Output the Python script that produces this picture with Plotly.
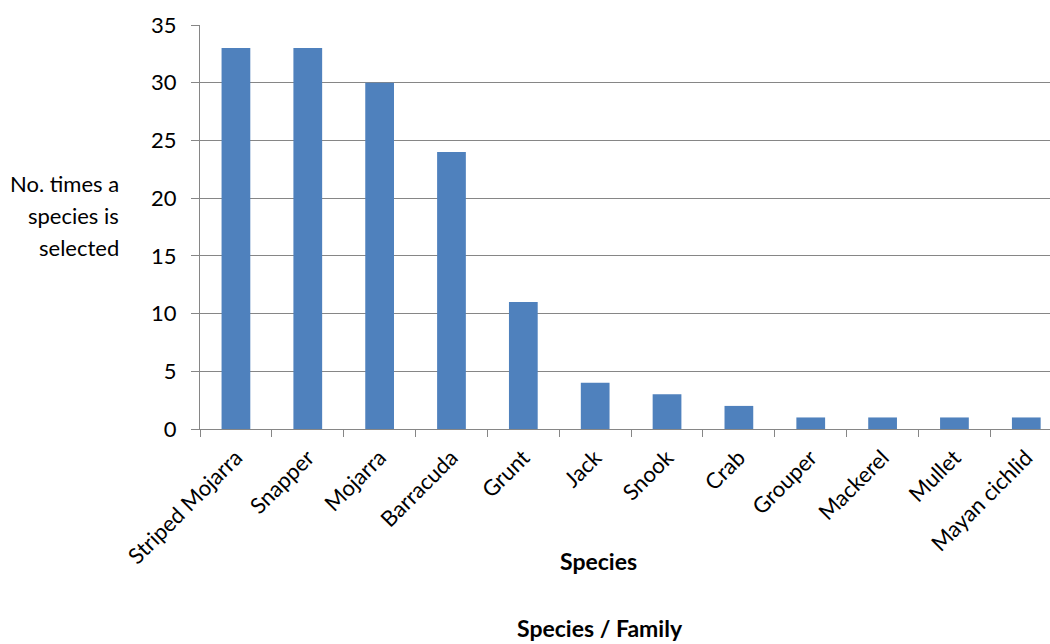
import plotly.graph_objects as go

species = ["Striped Mojarra", "Snapper", "Mojarra", "Barracuda", "Grunt", "Jack",
           "Snook", "Crab", "Grouper", "Mackerel", "Mullet", "Mayan cichlid"]
counts = [33, 33, 30, 24, 11, 4, 3, 2, 1, 1, 1, 1]
y_ticks = [0, 5, 10, 15, 20, 25, 30, 35]

FONT = "Lato"
GRID = "#868686"
FS = 22

fig = go.Figure(go.Bar(x=species, y=counts, marker=dict(color="#4F81BD", line=dict(width=0))))

fig.update_layout(
    width=1050, height=644,
    margin=dict(l=200, r=0, t=25, b=215),
    plot_bgcolor="white", paper_bgcolor="white",
    bargap=0.6, showlegend=False,
    font=dict(family=FONT, size=FS, color="#000000"),
)
fig.update_xaxes(
    range=[-0.5, 11.33], tickangle=-45, tickson="boundaries",
    ticks="outside", ticklen=7, tickcolor=GRID, tickwidth=1.3,
    showline=True, linecolor=GRID, linewidth=1.3, showgrid=False,
    tickfont=dict(family=FONT, size=FS), ticklabelstandoff=6,
)
fig.update_yaxes(
    range=[0, 35], tickvals=y_ticks, ticks="outside", ticklen=8, tickcolor=GRID, tickwidth=1.3,
    showline=True, linecolor=GRID, linewidth=1.3, showgrid=True, gridcolor=GRID, gridwidth=1.3,
    zeroline=False, tickfont=dict(family=FONT, size=FS), ticklabelstandoff=10,
)

def py(ypx):
    return (429 - ypx) / 404

for i, txt in enumerate(["No. times a", "species is", "selected"]):
    fig.add_annotation(text=txt, xref="paper", yref="paper", x=(121 - 200) / 850, xanchor="right",
                       y=py(183 + 32 * i), yanchor="middle",
                       showarrow=False, font=dict(family=FONT, size=FS))

fig.add_annotation(text="<b>Species</b>", xref="paper", yref="paper", x=(598 - 200) / 850, y=py(561),
                   xanchor="center", yanchor="middle", showarrow=False, font=dict(family=FONT, size=23))
fig.add_annotation(text="<b>Species / Family</b>", xref="paper", yref="paper", x=(600 - 200) / 850, y=py(628),
                   xanchor="center", yanchor="middle", showarrow=False, font=dict(family=FONT, size=23))

fig.write_html("out.html")
